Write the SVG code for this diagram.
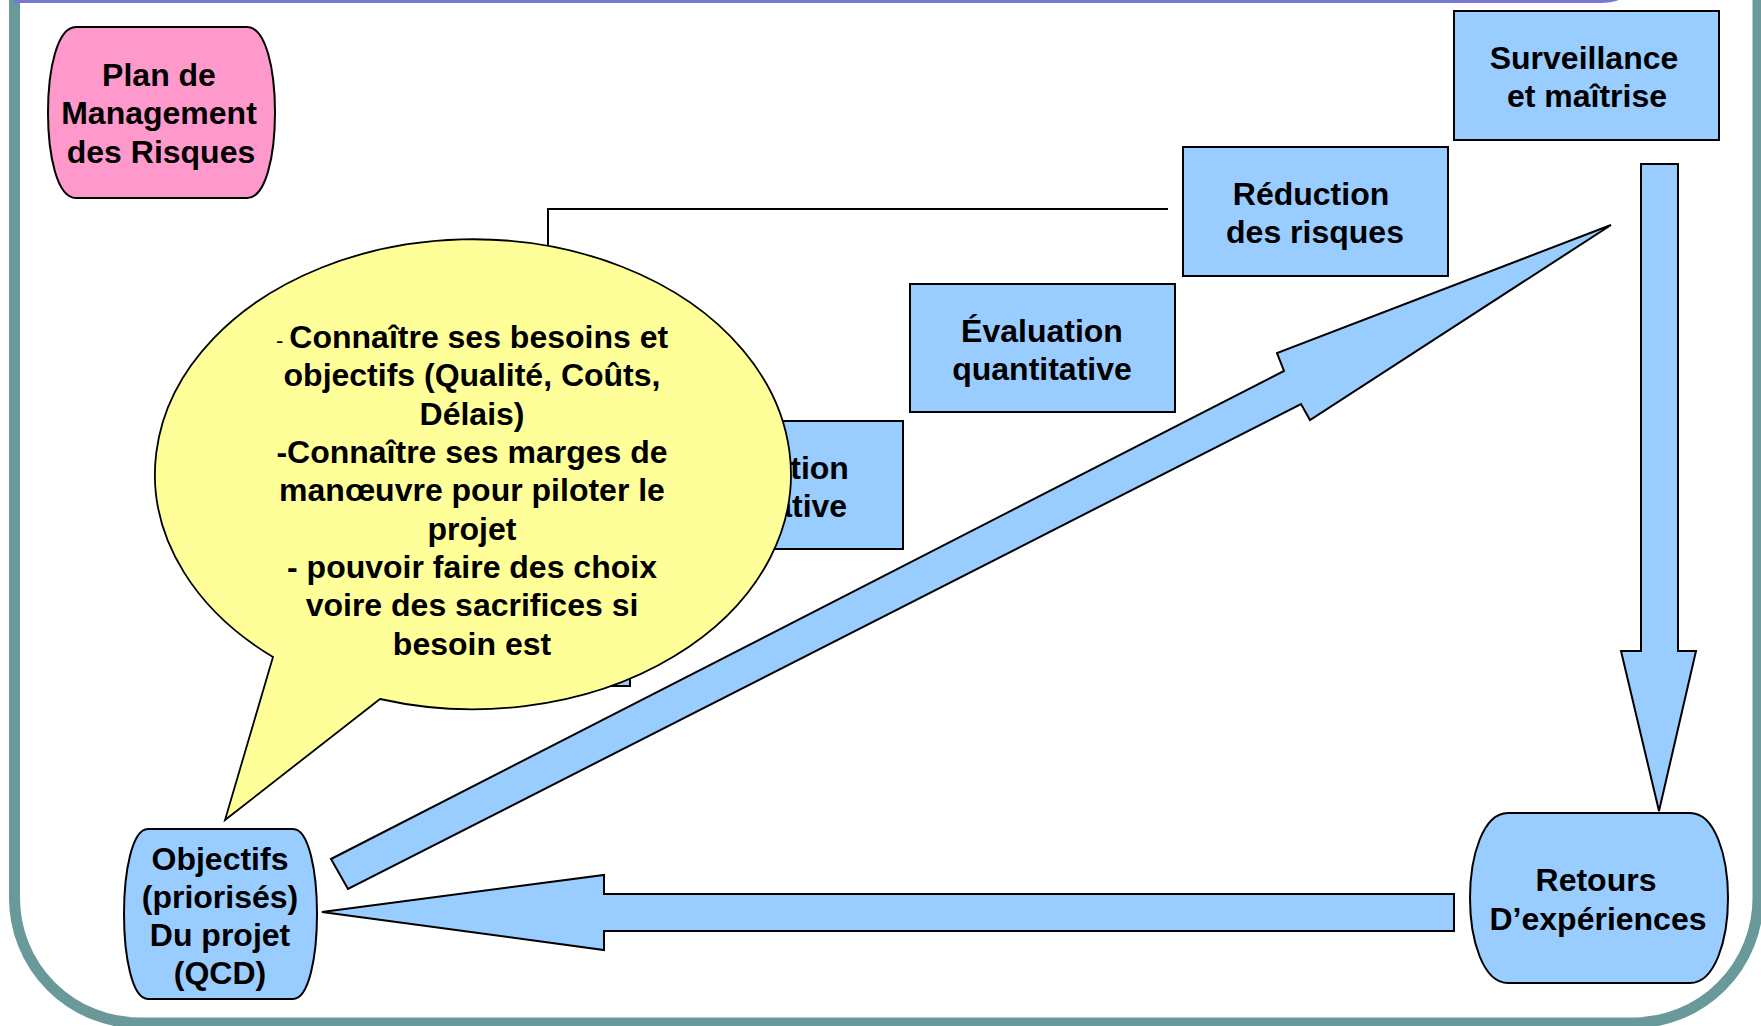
<svg xmlns="http://www.w3.org/2000/svg" width="1761" height="1026" viewBox="0 0 1761 1026">
<style>
.box{fill:#99CCFF;stroke:#000;stroke-width:2}
.arr{fill:#99CCFF;stroke:#000;stroke-width:2;stroke-linejoin:miter}
.t{font-family:"Liberation Sans",Arial,sans-serif;font-weight:bold;font-size:32px;text-anchor:middle;fill:#000}
.ln{fill:none;stroke:#000;stroke-width:2}
</style>
<rect x="0" y="0" width="1761" height="1026" fill="#fff"/>
<g id="frame">
<path d="M 14.5 -20 V 898 A 125 125 0 0 0 139.5 1023 H 1633 A 125 125 0 0 0 1758 898 V -20" fill="none" stroke="#699999" stroke-width="11"/>
<path d="M 14 1.5 H 1600 Q 1612 1.5 1620 -2" fill="none" stroke="#7878D4" stroke-width="3"/>
</g>
<g id="connectors">
<path class="ln" d="M 548 300 V 209 H 1168"/>
<polygon id="arrow-down" class="arr" points="1641,164 1678,164 1678,651 1696,651 1659,811 1621,651 1641,651"/>
<polygon id="arrow-left" class="arr" points="1454,894 604,894 604,875 322,912 604,950 604,931 1454,931"/>
<polygon id="arrow-diag" class="arr" points="331,859 1284,371 1277,353 1611,225 1310,420 1301,404 348,889"/>
</g>
<g id="plan">
<path d="M 76 27 H 247 C 266 27 275 70 275 112.5 C 275 155 266 198 247 198 H 76 C 57 198 48 155 48 112.5 C 48 70 57 27 76 27 Z" fill="#FF99CC" stroke="#000" stroke-width="2"/>
<text class="t" x="159" y="86">Plan de</text>
<text class="t" x="159" y="124">Management</text>
<text class="t" x="161" y="163">des Risques</text>
</g>
<g id="surveillance">
<rect class="box" x="1454" y="11" width="265" height="129"/>
<text class="t" x="1584" y="69">Surveillance</text>
<text class="t" x="1587" y="107">et maîtrise</text>
</g>
<g id="reduction">
<rect class="box" x="1183" y="147" width="265" height="129"/>
<text class="t" x="1311" y="205">Réduction</text>
<text class="t" x="1315" y="243">des risques</text>
</g>
<g id="eval-quanti">
<rect class="box" x="910" y="284" width="265" height="128"/>
<text class="t" x="1042" y="342">Évaluation</text>
<text class="t" x="1042" y="380">quantitative</text>
</g>
<g id="eval-quali">
<rect class="box" x="638" y="421" width="265" height="128"/>
<text class="t" x="768" y="479">Évaluation</text>
<text class="t" x="768" y="517">qualitative</text>
</g>
<g id="identification">
<rect class="box" x="364" y="558" width="266" height="128"/>
</g>
<g id="bubble">
<path d="M 273 657 A 318 235 0 1 1 380 699 L 225 820 Z" fill="#FFFF99" stroke="#000" stroke-width="1.8"/>
<text class="t" x="472" y="348"><tspan font-size="22" font-weight="normal">- </tspan>Connaître ses besoins et</text>
<text class="t" x="472" y="386">objectifs (Qualité, Coûts,</text>
<text class="t" x="472" y="424.5">Délais)</text>
<text class="t" x="472" y="463">-Connaître ses marges de</text>
<text class="t" x="472" y="501">manœuvre pour piloter le</text>
<text class="t" x="472" y="539.5">projet</text>
<text class="t" x="472" y="578">- pouvoir faire des choix</text>
<text class="t" x="472" y="616">voire des sacrifices si</text>
<text class="t" x="472" y="654.5">besoin est</text>
</g>
<g id="objectifs">
<path d="M 148 829 H 293 C 309 829 317 872 317 914 C 317 956 309 999 293 999 H 148 C 132 999 124 956 124 914 C 124 872 132 829 148 829 Z" fill="#99CCFF" stroke="#000" stroke-width="2"/>
<text class="t" x="220" y="870">Objectifs</text>
<text class="t" x="220" y="908">(priorisés)</text>
<text class="t" x="220" y="946">Du projet</text>
<text class="t" x="220" y="984">(QCD)</text>
</g>
<g id="retours">
<path d="M 1508 813 H 1690 C 1715 813 1728 856 1728 898 C 1728 940 1715 983 1690 983 H 1508 C 1483 983 1470 940 1470 898 C 1470 856 1483 813 1508 813 Z" fill="#99CCFF" stroke="#000" stroke-width="2"/>
<text class="t" x="1596" y="891">Retours</text>
<text class="t" x="1598" y="930">D’expériences</text>
</g>
</svg>
